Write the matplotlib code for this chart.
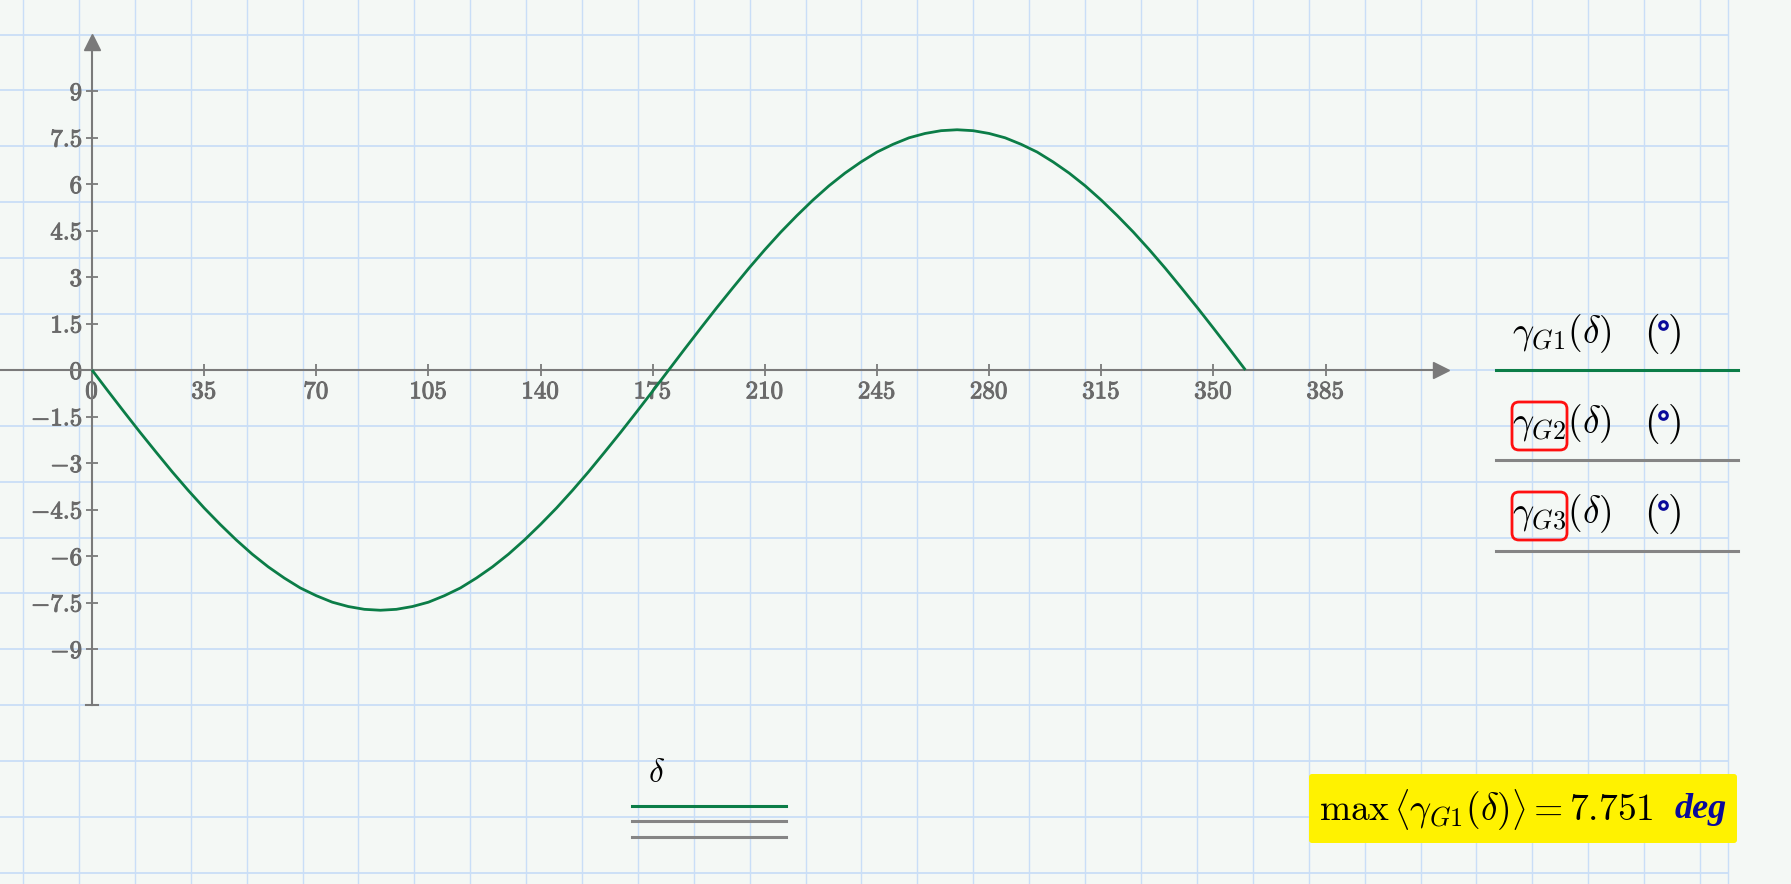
import numpy as np
import matplotlib
matplotlib.use("Agg")
import matplotlib.pyplot as plt
import matplotlib.patheffects as pe
from matplotlib.patches import FancyBboxPatch
from matplotlib.ticker import FixedLocator, FuncFormatter

plt.rcParams['mathtext.fontset'] = 'cm'
plt.rcParams['font.family'] = ['DejaVu Serif']

# data (gamma_G1 vs delta, degrees, every 5 deg)
delta = list(range(0, 361, 5))
gamma_g1 = [0, -0.68, -1.35, -2.01, -2.65, -3.28, -3.88, -4.45, -4.98, -5.48, -5.94, -6.35,
            -6.71, -7.03, -7.28, -7.49, -7.63, -7.72, -7.75, -7.72, -7.63, -7.49, -7.28, -7.03,
            -6.71, -6.35, -5.94, -5.48, -4.98, -4.45, -3.88, -3.28, -2.65, -2.01, -1.35, -0.68,
            0, 0.68, 1.35, 2.01, 2.65, 3.28, 3.88, 4.45, 4.98, 5.48, 5.94, 6.35,
            6.71, 7.03, 7.28, 7.49, 7.63, 7.72, 7.75, 7.72, 7.63, 7.49, 7.28, 7.03,
            6.71, 6.35, 5.94, 5.48, 4.98, 4.45, 3.88, 3.28, 2.65, 2.01, 1.35, 0.68, 0]
x_ticks = [0, 35, 70, 105, 140, 175, 210, 245, 280, 315, 350, 385]
y_ticks = [-9, -7.5, -6, -4.5, -3, -1.5, 0, 1.5, 3, 4.5, 6, 7.5, 9]
legend_labels = [r'$\gamma_{G1}(\delta)$', r'$\gamma_{G2}(\delta)$', r'$\gamma_{G3}(\delta)$']
max_value = 7.751

W, H = 1791, 884
BG = '#f4f8f5'
GRID = '#c9def7'
AXC = '#7a7a7a'
GREEN = '#0b7d47'
LGRAY = '#858585'
BLUE = '#0a0a9a'
TICKC = '#6a6a6a'

# pixel mapping of the plot region
X0, SX = 92, 3.204
Y0, SY = 370, 31.0

fig = plt.figure(figsize=(W / 100, H / 100), dpi=100, facecolor=BG)

# background sheet in pixel coordinates
bg = fig.add_axes([0, 0, 1, 1])
bg.set_xlim(0, W)
bg.set_ylim(H, 0)
bg.axis('off')
bg.set_zorder(0)

gx = 23
while gx < 1728:
    bg.plot([gx, gx], [0, H], color=GRID, lw=1, zorder=0)
    gx += 55.9
gy = 34.5
while gy < H:
    bg.plot([0, 1728], [gy, gy], color=GRID, lw=1.3, zorder=0)
    gy += 55.9
bg.plot([1728, 1728], [0, H], color=GRID, lw=1, zorder=0)

# main plot
ax = fig.add_axes([0, 0, 1, 1])
ax.set_zorder(2)
ax.patch.set_alpha(0)
ax.set_xlim(-X0 / SX, (W - X0) / SX)
ax.set_ylim((Y0 - H) / SY, Y0 / SY)

ax.plot(delta, gamma_g1, color=GREEN, lw=2.0, zorder=5, solid_capstyle='butt')

for s in ['top', 'right']:
    ax.spines[s].set_visible(False)
ax.spines['left'].set_position(('data', 0))
ax.spines['bottom'].set_position(('data', 0))
ax.spines['left'].set_bounds((Y0 - 705) / SY, (Y0 - 47) / SY)
ax.spines['bottom'].set_bounds(-X0 / SX, (1435 - X0) / SX)
for s in ['left', 'bottom']:
    ax.spines[s].set_color(AXC)
    ax.spines[s].set_linewidth(1.5)

# arrow heads
ax.plot((1441 - X0) / SX, 0, marker='>', ms=11, color=AXC, clip_on=False, zorder=4)
ax.plot(0, (Y0 - 42) / SY, marker='^', ms=11, color=AXC, clip_on=False, zorder=4)
# end cap at bottom of y axis
ax.plot([-6 / SX, 6 / SX], [(Y0 - 705) / SY] * 2, color=AXC, lw=1.5)

ax.xaxis.set_major_locator(FixedLocator(x_ticks))
ax.yaxis.set_major_locator(FixedLocator(y_ticks))
fmt = FuncFormatter(lambda v, p: r'$%g$' % v)
ax.xaxis.set_major_formatter(fmt)
ax.yaxis.set_major_formatter(fmt)
ax.tick_params(axis='both', direction='inout', length=9, width=1.3, color=AXC,
               labelcolor=TICKC, labelsize=18)
ax.tick_params(axis='x', pad=3)
ax.tick_params(axis='y', pad=2)
for t in ax.get_xticklabels() + ax.get_yticklabels():
    t.set_path_effects([pe.withStroke(linewidth=0.7, foreground=TICKC)])

# legend on the right
rows_text_y = [334, 424, 514]
rows_line_y = [370, 460, 551]
line_colors = [GREEN, LGRAY, LGRAY]
for lab, ty, ly, c in zip(legend_labels, rows_text_y, rows_line_y, line_colors):
    bg.text(1512, ty, lab, fontsize=27, ha='left', va='center', color='black')
    bg.text(1644, ty, r'$($', fontsize=29, ha='left', va='center', color='black')
    bg.text(1681, ty, r'$)$', fontsize=29, ha='right', va='center', color='black')
    bg.plot(1663, ty - 9, marker='o', ms=5.5, mfc='none', mec=BLUE, mew=2.2)
    bg.plot([1496, 1738], [ly, ly], color=c, lw=2.2)

for by in [402, 492]:
    bg.add_patch(FancyBboxPatch((1512, by), 55, 48, boxstyle='round,pad=0,rounding_size=7',
                                fill=False, ec='#ff1010', lw=2.0, zorder=3))

# x variable label
bg.text(657, 773, r'$\delta$', fontsize=24, ha='center', va='center', color='black')
bg.plot([632, 786], [806, 806], color=GREEN, lw=2.2)
bg.plot([632, 786], [821, 821], color=LGRAY, lw=2.2)
bg.plot([632, 786], [837, 837], color=LGRAY, lw=2.2)

# highlighted result
bg.add_patch(FancyBboxPatch((1309, 774), 428, 69, boxstyle='round,pad=0,rounding_size=3',
                            fc='#fff200', ec='none', zorder=2))
bg.text(1319, 810, r'$\mathrm{max}\,\left\langle\gamma_{G1}(\delta)\right\rangle = %.3f$' % max_value,
        fontsize=27, ha='left', va='center', color='black', zorder=4)
bg.text(1727, 810, 'deg', fontsize=26, ha='right', va='center', color=BLUE,
        family='Liberation Serif', style='italic', weight='bold', zorder=4)

fig.savefig('out.png', dpi=100, facecolor=BG)
